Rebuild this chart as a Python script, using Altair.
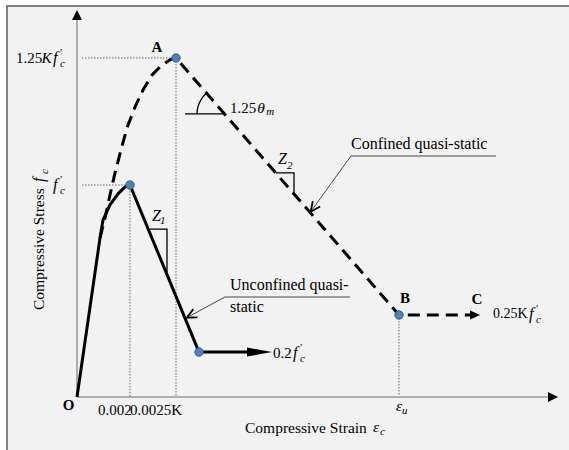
import altair as alt
import pandas as pd

# ---------------- data (strain in per mille, stress as a multiple of f'c) ----------------
# unconfined quasi-static curve (solid)
unconf_x = [0.0, 0.868, 0.981, 1.245, 1.547, 1.811, 2.0, 4.604]
unconf_y = [0.0, 0.75, 0.835, 0.906, 0.958, 0.991, 1.0, 0.212]
# unconfined residual branch (0.2 f'c)
resid_u_x = [4.604, 6.55]
resid_u_y = [0.212, 0.212]
resid_u_tip = [7.36, 0.212]
# confined quasi-static curve (dashed): rising branch, A, B, towards C
conf_x = [0.868, 1.057, 1.245, 1.434, 1.660, 1.887, 2.189, 2.491, 2.830, 3.208, 3.509, 3.736, 12.151, 14.83]
conf_y = [0.75, 0.844, 0.953, 1.057, 1.165, 1.269, 1.368, 1.448, 1.519, 1.566, 1.590, 1.599, 0.387, 0.387]
conf_tip = [15.21, 0.387]
# key points (blue dots): unconfined peak, unconfined end, A, B
key_x = [2.0, 4.604, 3.736, 12.151]
key_y = [1.0, 0.212, 1.599, 0.387]
# axis extents
x_axis_end = 17.77
x_axis_tip = 18.15
y_axis_end = 1.783
y_axis_tip = 1.825

# ---------------- scales ----------------
XD = [-2.9057, 18.566]
YD = [-0.25, 1.8726]
PX = (XD[1] - XD[0]) / 569.0   # one screen pixel in x units
PY = (YD[1] - YD[0]) / 450.0   # one screen pixel in y units
XS = alt.Scale(domain=XD, nice=False, zero=False)
YS = alt.Scale(domain=YD, nice=False, zero=False)


def xy(ch, x="x", y="y"):
    return ch.encode(x=alt.X(f"{x}:Q", scale=XS, axis=None),
                     y=alt.Y(f"{y}:Q", scale=YS, axis=None))


def line_df(segs):
    rows = []
    for i, pts in enumerate(segs):
        for j, (a, b) in enumerate(pts):
            rows.append({"id": i, "o": j, "x": a, "y": b})
    return pd.DataFrame(rows)


def lines(segs, **kw):
    return xy(alt.Chart(line_df(segs)).mark_line(**kw)).encode(
        detail="id:N", order="o:Q")


def texts(items, **kw):
    df = pd.DataFrame([{"x": a, "y": b, "t": t} for a, b, t in items])
    base = dict(font="Liberation Serif", fontSize=15, align="left",
                baseline="middle", color="black")
    base.update(kw)
    return xy(alt.Chart(df).mark_text(**base)).encode(text="t:N")


def arrow(x, y, shape, size, angle, filled=True, sw=1.0):
    df = pd.DataFrame([{"x": x, "y": y}])
    if filled:
        m = alt.Chart(df).mark_point(shape=shape, size=size, angle=angle, filled=True,
                                     color="black", opacity=1, strokeWidth=0)
    else:
        m = alt.Chart(df).mark_point(shape=shape, size=size, angle=angle, filled=False,
                                     color="black", opacity=1, strokeWidth=sw)
    return xy(m)


TRI = "M0,0L-2,-1L-2,1Z"
LONG_TRI = "M0,0L-2,-0.36L-2,0.36Z"
CHEVRON = "M-1.6,-0.75L0,0L-1.6,0.75"

# f'_c symbol pieces: (f, prime, subscript c) anchored at f's left edge
F_ITEMS, PRIME_ITEMS, C_ITEMS = [], [], []


def f_prime_c(xd, yd):
    F_ITEMS.append((xd, yd, "f"))
    PRIME_ITEMS.append((xd + 7 * PX, yd + 5 * PY, "′"))
    C_ITEMS.append((xd + 7 * PX, yd - 6 * PY, "c"))


f_prime_c(-0.906, 1.599)     # 1.25K f'c
f_prime_c(-0.906, 1.0)       # f'c
f_prime_c(8.15, 0.2075)      # 0.2 f'c
f_prime_c(17.06, 0.392)      # 0.25K f'c

# frame
frame = xy(alt.Chart(pd.DataFrame([{"x": -2.642, "x2": 21.0, "y": 1.844, "y2": -0.4}]))
           .mark_rect(fill="#f2f2f2", stroke="#595959", strokeWidth=1.5)).encode(
    x2="x2:Q", y2="y2:Q")

# axes
axes = lines([[(0, 0), (x_axis_end, 0)], [(0, 0), (0, y_axis_end)]],
             color="#9a9a9a", strokeWidth=1.6)
ax_arrows = [arrow(x_axis_tip, 0, TRI, 100, 0), arrow(0, y_axis_tip, TRI, 100, 270)]

# dotted guides
guides = lines([
    [(0.189, 1.599), (3.736, 1.599)],
    [(3.736, 1.599), (3.736, 0.0)],
    [(0.189, 1.0), (2.0, 1.0)],
    [(2.0, 1.0), (2.0, 0.0)],
    [(12.151, 0.387), (12.151, 0.01)],
], color="#6b6b6b", strokeWidth=1, strokeDash=[1.5, 1.5])

# curves
unconf = lines([list(zip(unconf_x, unconf_y))], color="black", strokeWidth=3,
               strokeJoin="round")
resid = lines([list(zip(resid_u_x, resid_u_y))], color="black", strokeWidth=3)
conf = lines([list(zip(conf_x, conf_y))], color="black", strokeWidth=3,
             strokeDash=[12, 7])
curve_arrows = [arrow(resid_u_tip[0], resid_u_tip[1], LONG_TRI, 625, 0),
                arrow(conf_tip[0], conf_tip[1], "M0,0L-2,-0.9L-2,0.9Z", 100, 0)]

# slope triangles and angle sign
thin = lines([
    [(2.679, 0.792), (3.396, 0.792), (3.396, 0.580)],
    [(7.509, 1.057), (8.189, 1.057), (8.189, 0.958)],
    [(4.075, 1.335), (5.585, 1.335)],
    [(4.528, 1.335), (4.543, 1.358), (4.592, 1.380), (4.672, 1.401), (4.777, 1.420), (4.890, 1.434)],
], color="black", strokeWidth=1.3)

# leaders
under = lines([[(10.34, 1.137), (15.81, 1.137)], [(5.585, 0.472), (10.30, 0.472)]],
              color="#808080", strokeWidth=1.4)
leaders = lines([[(10.34, 1.137), (8.819, 0.874)], [(5.585, 0.472), (4.140, 0.374)]],
                color="#333333", strokeWidth=0.9)
lead_arrows = [arrow(8.819, 0.874, CHEVRON, 150, 126, filled=False, sw=1.8),
               arrow(4.140, 0.374, CHEVRON, 150, 153, filled=False, sw=1.8)]

# key points
dots = xy(alt.Chart(pd.DataFrame({"x": key_x, "y": key_y})).mark_point(
    filled=True, size=70, fill="#4f81bd", stroke="#2e5c8f", strokeWidth=1, opacity=1))

# texts
t_up = texts([
    (-2.30, 1.599, "1.25"),
    (0.792, -0.061, "0.002"),
    (2.0, -0.061, "0.0025K"),
    (5.774, 1.363, "1.25"),
    (7.396, 0.2075, "0.2"),
])
t_up_small = texts([(15.698, 0.392, "0.25K")], fontSize=14)
t_it = texts([
    (-1.340, 1.599, "K"),
    (12.04, -0.042, "ε"),
    (11.17, -0.142, "ε"),
    (6.80, 1.363, "θ"),
], fontStyle="italic", fontSize=15.5)
t_Z = texts([
    (2.830, 0.854, "Z"),
    (7.585, 1.123, "Z"),
], fontStyle="italic", fontSize=16)
t_f = texts(F_ITEMS, fontStyle="italic", fontSize=16.5)
t_prime = texts(PRIME_ITEMS, fontSize=11)
t_sub = texts(C_ITEMS + [
    (12.26, -0.066, "u"),
    (11.43, -0.165, "c"),
    (7.14, 1.344, "m"),
    (3.132, 0.830, "1"),
    (7.925, 1.090, "2"),
], fontStyle="italic", fontSize=11)
t_bold = texts([
    (-0.321, -0.038, "O"),
    (3.019, 1.651, "A"),
    (12.377, 0.467, "B"),
    (15.094, 0.462, "C"),
], fontWeight="bold", align="center")
t_lab = texts([
    (10.34, 1.193, "Confined quasi-static"),
    (5.774, 0.528, "Unconfined quasi-"),
    (5.774, 0.425, "static"),
], fontSize=16)
t_xtitle = texts([(6.34, -0.146, "Compressive Strain")], fontSize=15.5)
t_ytitle = texts([(-1.43, 0.410, "Compressive Stress")], fontSize=15.5, angle=270)
t_ytitle_f = texts([(-1.43, 1.014, "f")], fontSize=16, angle=270, fontStyle="italic")
t_ytitle_c = texts([(-1.22, 1.052, "c")], fontSize=11, angle=270, fontStyle="italic")

layers = [frame, axes, *ax_arrows, guides, unconf, resid, conf, *curve_arrows,
          thin, under, leaders, *lead_arrows, dots,
          t_up, t_up_small, t_it, t_Z, t_f, t_prime, t_sub, t_bold, t_lab,
          t_xtitle, t_ytitle, t_ytitle_f, t_ytitle_c]

chart = alt.layer(*layers).properties(
    width=569, height=450, padding=0, autosize="none", background="white"
).configure_view(stroke=None)

chart.save("out.html", embed_options={"renderer": "svg", "actions": False})
